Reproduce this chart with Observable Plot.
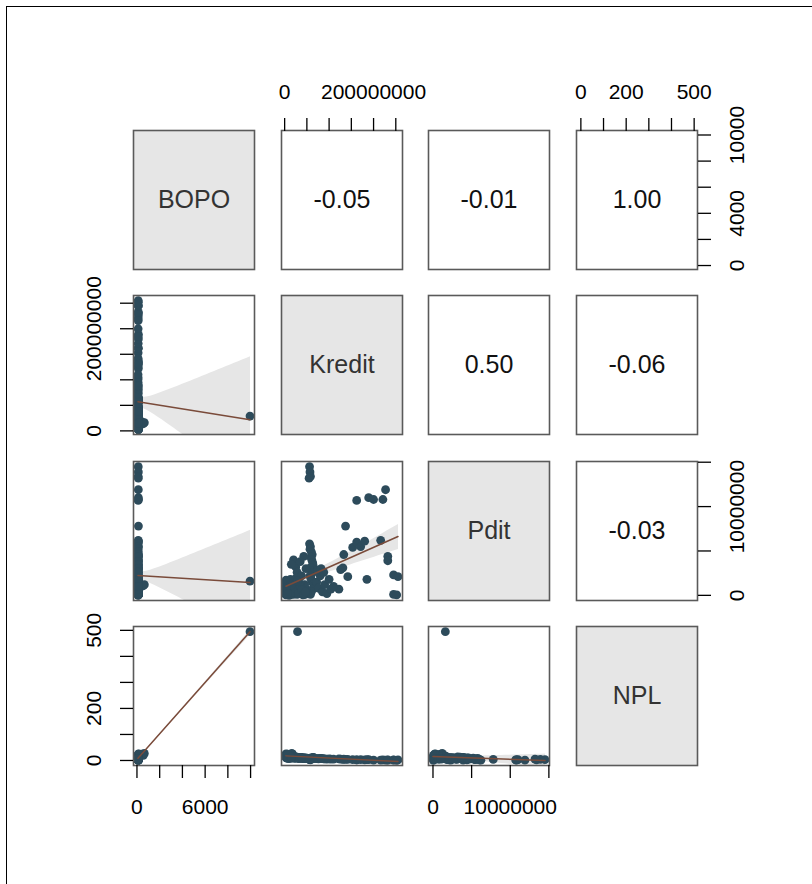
<!DOCTYPE html>
<html><head><meta charset="utf-8">
<script src="https://cdn.jsdelivr.net/npm/d3@7"></script>
<script src="https://cdn.jsdelivr.net/npm/@observablehq/plot@0.6"></script>
<style>
body{margin:0;background:#fff;font-family:"Liberation Sans",Arial,sans-serif}
#wrap{position:relative;width:812px;height:884px;overflow:hidden;background:#fff}
#frame{position:absolute;left:6px;top:6px;width:840px;height:900px;border-left:1.5px solid #000;border-top:1.5px solid #000}
.panel{position:absolute}
</style></head><body><div id="wrap"><div id="frame"></div></div>
<script>
const varNames = ["BOPO", "Kredit", "Pdit", "NPL"];

// observations (same order in every array): high group, column group, dense cluster, mid-left, middle, outlier
const bopo = [
  115,122,108,118,110,125,104,112,120,130,102,116,109,124,113,107,121,128,98,119,106,114,111,123,117,103,126,
  110,105,98,120,101,115,96,108,125,99,112,104,118,97,109,122,100,114,106,94,
  110,125,118,98,130,112,118,125,105,128,
  128,120,135,115,120,122,115,108,110,122,
  119,121,125,118,400,118,127,115,112,119,
  104,111,126,113,117,109,116,124,113,101,
  130,120,112,119,128,121,116,111,114,107,
  103,99,114,106,102,118,123,109,113,117,
  650,122,125,118,114,120,125,121,119,115,
  96,121,118,127,114,109,118,106,112,100,
  140,130,560,120,135,
  118,122,125,116,120,115,130,121,
  102,95,108,99,112,97,90,104,93,101,107,96,
  9950
];
const kredit = [
  56e6,57e6,58e6,55e6,162e6,189e6,200e6,221e6,227e6,137e6,153e6,162e6,171e6,180e6,216e6,232e6,232e6,133e6,142e6,122e6,185e6,245e6,255e6,245e6,252e6,126e6,131e6,
  56e6,58e6,57e6,60e6,62e6,59e6,61e6,63e6,64e6,58e6,60e6,62e6,57e6,59e6,61e6,65e6,66e6,63e6,60e6,58e6,
  4e6,3e6,5e6,5e6,4e6,7e6,6e6,9e6,8e6,11e6,
  3e6,4e6,6e6,8e6,10e6,12e6,14e6,16e6,18e6,20e6,
  3e6,4e6,3e6,5e6,18e6,9e6,13e6,15e6,17e6,19e6,
  22e6,24e6,26e6,28e6,30e6,32e6,34e6,36e6,38e6,40e6,
  3e6,6e6,9e6,12e6,15e6,18e6,21e6,25e6,29e6,33e6,
  42e6,44e6,46e6,48e6,50e6,45e6,41e6,37e6,27e6,23e6,
  16e6,5e6,8e6,11e6,14e6,17e6,20e6,3e6,4e6,7e6,
  10e6,13e6,16e6,19e6,24e6,31e6,35e6,39e6,43e6,47e6,
  3e6,3.5e6,14e6,3.5e6,6.5e6,
  20e6,43e6,25e6,35e6,28e6,48e6,15e6,38e6,
  72e6,76e6,80e6,85e6,90e6,95e6,100e6,104e6,74e6,82e6,88e6,110e6,
  29e6
];
const pdit = [
  145e5,139e5,134e5,132e5,107e5,110e5,108e5,108e5,119e5,78e5,54e5,60e5,55e5,61e5,62e5,44e5,39e5,46e5,21e5,7e5,18e5,23e5,21e5,1e5,0.5e5,29e5,31e5,
  58e5,55e5,52e5,49e5,46e5,43e5,40e5,37e5,34e5,31e5,28e5,25e5,22e5,19e5,16e5,13e5,10e5,7e5,4e5,1e5,
  2e5,5e5,1e5,8e5,3e5,12e5,6e5,15e5,4e5,10e5,
  0.5e5,7e5,2e5,11e5,5e5,14e5,3e5,9e5,6e5,1e5,
  9e5,13e5,4e5,16e5,10e5,7e5,18e5,2e5,10e5,5e5,
  3e5,8e5,12e5,1e5,6e5,15e5,4e5,9e5,2e5,11e5,
  17e5,3e5,8e5,1e5,13e5,5e5,10e5,19e5,6e5,2e5,
  4e5,9e5,1e5,7e5,3e5,12e5,0.5e5,5e5,14e5,8e5,
  12e5,11e5,3e5,6e5,1e5,9e5,4e5,15e5,2e5,7e5,
  0,12e5,5e5,3e5,8e5,2e5,10e5,6e5,1e5,4e5,
  3e5,6e5,11e5,9e5,2e5,
  40e5,44e5,32e5,38e5,26e5,30e5,35e5,22e5,
  15e5,8e5,22e5,4e5,12e5,2e5,18e5,7e5,28e5,30e5,26e5,10e5,
  16e5
];
const npl = [
  3,4,2,5,2,3,1,2,1,4,3,2,3,2,1,2,1,5,4,6,3,1,2,2,0.5,5,4,
  8,7,9,6,10,8,7,9,11,6,8,10,7,9,8,12,7,9,8,6,
  10,12,14,9,16,13,11,15,8,12,
  20,14,17,13,11,15,10,9,12,11,
  18,19,16,14,24,13,12,15,10,11,
  9,12,11,13,10,8,12,11,9,8,
  16,17,14,13,12,11,10,9,12,8,
  8,7,9,8,7,9,10,11,12,12,
  27,22,18,15,14,13,12,19,21,17,
  7,11,12,11,9,8,10,8,9,7,
  25,22,20,15,24,
  12,10,14,12,11,10,13,12,
  7,6,8,7,6,5,6,5,7,8,6,5,
  495
];

// correlations printed in the upper panels
const corrRows = [0, 0, 0, 1, 1, 2];
const corrCols = [1, 2, 3, 2, 3, 3];
const corrValues = ["-0.05", "-0.01", "1.00", "0.50", "-0.06", "-0.03"];

// ticks and their printed labels
const bopoTicks = [0, 2000, 4000, 6000, 8000, 10000];
const bopoBottomLabels = ["0", "", "", "6000", "", ""];
const bopoRightLabels = ["0", "", "4000", "", "", "10000"];
const kreditTicks = [0, 5e7, 1e8, 1.5e8, 2e8, 2.5e8];
const kreditLabels = ["0", "", "", "", "200000000", ""];
const pditTicks = [0, 5e6, 1e7, 1.5e7];
const pditLabels = ["0", "", "10000000", ""];
const nplTicks = [0, 100, 200, 300, 400, 500];
const nplLabels = ["0", "", "200", "", "", "500"];

const obs = bopo.map((_, i) => ({BOPO: bopo[i], Kredit: kredit[i], Pdit: pdit[i], NPL: npl[i]}));

const colLeft = [133, 281, 428, 576];
const rowTop = [130, 295, 461, 626];
const PW = 121, PH = 139;

const domains = {};
for (const v of varNames) {
  const [a, b] = d3.extent(obs, d => d[v]);
  const p = (b - a) * 0.04;
  domains[v] = [a - p, b + p];
}
const fmt = (ticks, labels) => { const m = new Map(ticks.map((t, i) => [t, labels[i]])); return d => m.get(d) ?? ""; };

const FS = 21;
const AX = {fontSize: FS, color: "#000", strokeWidth: 1.3, label: null, tickSize: 13};
function axes(r, c) {
  const m = [];
  const top = (ticks, labels) => Plot.axisX({...AX, anchor: "top", ticks, tickFormat: fmt(ticks, labels), tickPadding: 19});
  const bottom = (ticks, labels) => Plot.axisX({...AX, anchor: "bottom", ticks, tickFormat: fmt(ticks, labels), tickPadding: 21});
  const left = (ticks, labels) => Plot.axisY({...AX, anchor: "left", ticks, tickFormat: fmt(ticks, labels), tickPadding: 20, tickRotate: -90, lineAnchor: "bottom", textAnchor: "middle"});
  const right = (ticks, labels) => Plot.axisY({...AX, anchor: "right", ticks, tickFormat: fmt(ticks, labels), tickPadding: 19, tickRotate: -90, lineAnchor: "top", textAnchor: "middle"});
  if (r === 0 && c === 1) m.push(top(kreditTicks, kreditLabels));
  if (r === 0 && c === 3) { m.push(top(nplTicks, nplLabels)); m.push(right(bopoTicks, bopoRightLabels)); }
  if (r === 1 && c === 0) m.push(left(kreditTicks, kreditLabels));
  if (r === 2 && c === 3) m.push(right(pditTicks, pditLabels));
  if (r === 3 && c === 0) { m.push(left(nplTicks, nplLabels)); m.push(bottom(bopoTicks, bopoBottomLabels)); }
  if (r === 3 && c === 2) m.push(bottom(pditTicks, pditLabels));
  return m;
}

const wrap = document.getElementById("wrap");
const FRAME = {stroke: "#5a5a5a", strokeWidth: 1.6};
for (let r = 0; r < 4; r++) {
  for (let c = 0; c < 4; c++) {
    const xv = varNames[c], yv = varNames[r];
    let marks = [];
    if (r === c) {
      marks = [Plot.frame({fill: "#e6e6e6", ...FRAME}),
               Plot.text([xv], {frameAnchor: "middle", text: d => d, fontSize: 25, fill: "#333"})];
    } else if (r < c) {
      const k = corrRows.findIndex((rr, i) => rr === r && corrCols[i] === c);
      marks = [Plot.frame(FRAME),
               Plot.text([corrValues[k]], {frameAnchor: "middle", text: d => d, fontSize: 25, fill: "#111"})];
    } else {
      marks = [
        Plot.linearRegressionY(obs, {x: xv, y: yv, fill: "#e6e6e6", fillOpacity: 1, stroke: "none", clip: true}),
        Plot.dot(obs, {x: xv, y: yv, r: 4.4, fill: "#2d4b5b"}),
        Plot.linearRegressionY(obs, {x: xv, y: yv, ci: 0, stroke: "#7a4b3a", strokeWidth: 1.5, clip: true}),
        Plot.frame(FRAME)
      ];
    }
    marks.push(...axes(r, c));
    const svg = Plot.plot({
      width: PW, height: PH, margin: 0,
      style: {background: "transparent", overflow: "visible", fontFamily: "Liberation Sans, Arial, sans-serif"},
      x: {domain: domains[xv], axis: null},
      y: {domain: domains[yv], axis: null},
      marks
    });
    const div = document.createElement("div");
    div.className = "panel";
    div.style.left = colLeft[c] + "px";
    div.style.top = rowTop[r] + "px";
    div.appendChild(svg);
    wrap.appendChild(div);
  }
}
</script></body></html>
